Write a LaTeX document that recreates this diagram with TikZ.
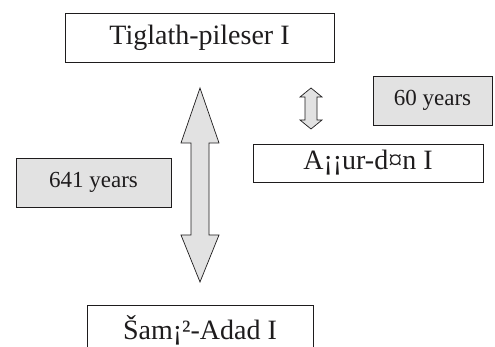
\documentclass[tikz,border=0pt]{standalone}
\usepackage{fontspec}
\setmainfont{Liberation Serif}
\definecolor{boxfill}{HTML}{E2E2E2}
\definecolor{ink}{HTML}{1E1C1D}
\begin{document}
\begin{tikzpicture}[x=1pt,y=-1pt,
  kingbox/.style={draw=ink,line width=0.8pt,fill=white,inner sep=0pt,text=ink,font=\fontsize{28}{30}\selectfont},
  yearbox/.style={draw=ink,line width=0.8pt,fill=boxfill,inner sep=0pt,text=ink,font=\fontsize{23}{26}\selectfont},
  arrowshape/.style={draw=ink,line width=0.7pt,fill=boxfill,line join=miter}]
\clip (0,0) rectangle (495,347);
\fill[white] (0,0) rectangle (495,347);
\node[kingbox,minimum width=269pt,minimum height=49pt] (tig) at (199.5,37.5) {Tiglath-pileser I};
\node[yearbox,minimum width=119pt,minimum height=49pt] (y60) at (432.5,100.5) {60 years};
\node[kingbox,minimum width=230pt,minimum height=38pt] (ash) at (368,163) {A¡¡ur-d¤n I};
\node[yearbox,minimum width=155pt,minimum height=49pt] (y641) at (93.5,182.5) {641 years};
\node[kingbox,minimum width=226pt,minimum height=49pt,anchor=north] (sam) at (200,305) {\raisebox{-6pt}{Šam¡²-Adad I}};
% big double arrow
\draw[arrowshape] (200,88) -- (219,143) -- (209,143) -- (209,235) -- (219,235)
  -- (200,282) -- (181,235) -- (191,235) -- (191,143) -- (181,143) -- cycle;
% small double arrow
\draw[arrowshape] (311,88) -- (322,97) -- (317,97) -- (317,120) -- (322,120)
  -- (311,129) -- (300,120) -- (305,120) -- (305,97) -- (300,97) -- cycle;
\end{tikzpicture}
\end{document}
